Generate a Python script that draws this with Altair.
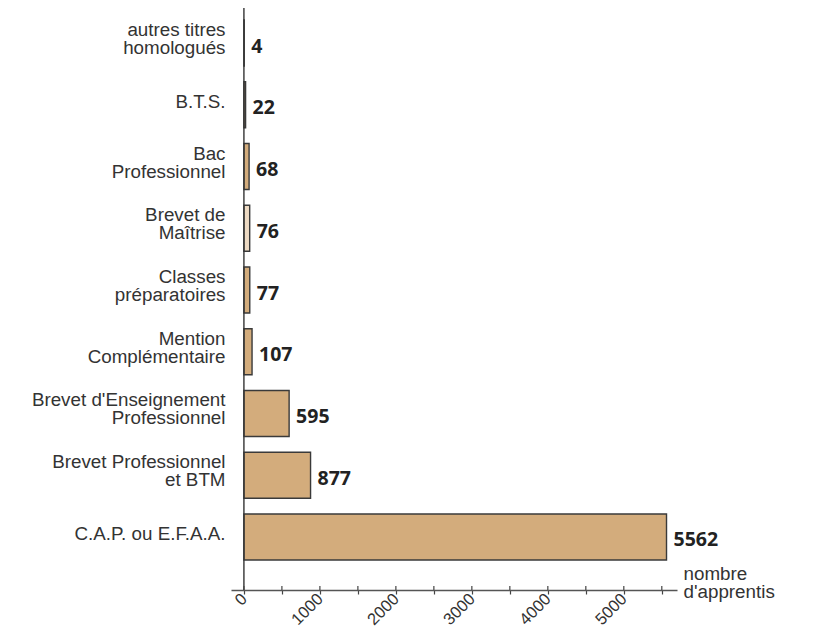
import altair as alt
import pandas as pd

categories = [
    "autres titres|homologués",
    "B.T.S.",
    "Bac|Professionnel",
    "Brevet de|Maîtrise",
    "Classes|préparatoires",
    "Mention|Complémentaire",
    "Brevet d'Enseignement|Professionnel",
    "Brevet Professionnel|et BTM",
    "C.A.P. ou E.F.A.A.",
]
values = [4, 22, 68, 76, 77, 107, 595, 877, 5562]
fills = ["#D3AC7C", "#D3AC7C", "#D3AC7C", "#EDDAC3", "#D3AC7C",
         "#D3AC7C", "#D3AC7C", "#D3AC7C", "#D3AC7C"]
tick_values = [0, 500, 1000, 1500, 2000, 2500, 3000, 3500, 4000, 4500, 5000, 5500]

W, H = 446, 556
AX_OFF = 22

df = pd.DataFrame({"cat": categories, "val": values, "fill": fills})
ticks_df = pd.DataFrame({"t": tick_values})

xscale = alt.Scale(domain=[-170, 5700], nice=False, zero=False)
yscale = alt.Scale(domain=categories, paddingInner=0.255, paddingOuter=0.13)

xaxis = alt.Axis(values=tick_values, offset=AX_OFF, grid=False,
                 labelExpr="datum.value % 1000 == 0 ? datum.label : ''",
                 format="d", labelAngle=315, labelAlign="right",
                 labelBaseline="middle", labelPadding=2,
                 labelFont="Liberation Sans", labelFontSize=16.5,
                 labelColor="#333333", tickSize=4, tickColor="#444444",
                 tickWidth=1.2, domainColor="#555555", domainWidth=1.5,
                 labelOverlap=False, labelFlush=False,
                 title=["nombre", "d'apprentis"], titleX=452, titleY=-11,
                 titleAlign="left", titleBaseline="alphabetic",
                 titleAngle=0, titleFont="Liberation Sans",
                 titleFontSize=18.8, titleFontWeight="normal",
                 titleColor="#333333", titleLineHeight=18)

yaxis = alt.Axis(title=None, domain=False, ticks=False, tickSize=0,
                 labelPadding=6, labelFont="Liberation Sans",
                 labelFontSize=18.8, labelColor="#333333",
                 labelLineHeight=18, labelLimit=400,
                 labelExpr="split(datum.label, '|')",
                 labelOffset={"condition": {"test": "indexof(datum.label, '|') >= 0", "value": -13}, "value": -3})

base = alt.Chart(df)

bars = base.mark_bar(stroke="#3a3a3a", strokeWidth=1.4).encode(
    y=alt.Y("cat:N", scale=yscale, sort=categories, axis=yaxis),
    x=alt.X("val:Q", scale=xscale, axis=xaxis),
    fill=alt.Fill("fill:N", scale=None),
)

labels = base.mark_text(align="left", baseline="alphabetic", dx=7, dy=9.5,
                        font="Open Sans", fontWeight="bold", fontSize=19.5,
                        color="#222222").encode(
    y=alt.Y("cat:N", scale=yscale, sort=categories, axis=yaxis),
    x=alt.X("val:Q", scale=xscale, axis=xaxis),
    text=alt.Text("val:Q", format="d"),
)

vline = alt.Chart(pd.DataFrame({"z": [0]})).mark_rule(color="#333333", strokeWidth=1.4).encode(
    x=alt.X("z:Q", scale=xscale, axis=xaxis),
    y=alt.value(-4),
    y2=alt.value(H + AX_OFF),
)

upticks = alt.Chart(ticks_df).mark_rule(color="#444444", strokeWidth=1.2).encode(
    x=alt.X("t:Q", scale=xscale, axis=xaxis),
    y=alt.value(H + AX_OFF - 4),
    y2=alt.value(H + AX_OFF),
)

chart = alt.layer(bars, labels, vline, upticks).properties(
    width=W, height=H,
    autosize=alt.AutoSizeParams(type="none"),
    padding={"left": 223, "top": 4, "right": 120, "bottom": 64},
).configure_view(stroke=None)

chart.save("out.html", embed_options={"renderer": "svg", "actions": False})
